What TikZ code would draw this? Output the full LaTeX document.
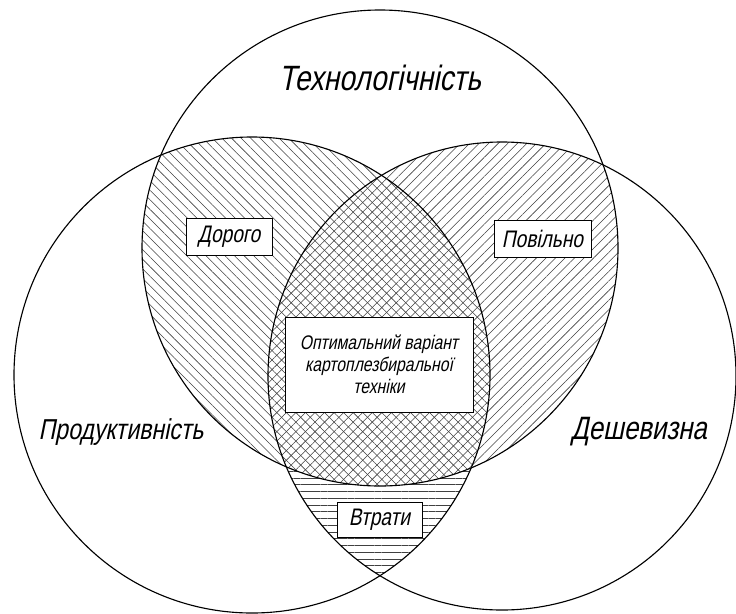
\documentclass[tikz,border=0pt]{standalone}
\usepackage{fontspec}
\setmainfont{Liberation Sans}
\newfontfamily\gost[FakeSlant=0.2,FakeStretch=0.8]{Liberation Sans}
\usetikzlibrary{patterns.meta}

\begin{document}
\begin{tikzpicture}[x=0.025cm,y=-0.025cm]
\tikzset{cercle/.style={draw,line width=0.8pt},
hachure/.style={pattern={Lines[angle=#1,distance=4.8pt,line width=0.4pt]},pattern color=black!75},
etiquette/.style={draw,fill=white,line width=0.5pt,inner sep=0pt,align=center,font=\gost\fontsize{17}{17}\selectfont},
titre/.style={font=\gost\fontsize{#1}{#1}\selectfont}}
\useasboundingbox (0,0) rectangle (736,613);
\coordinate (T) at (380,248);
\coordinate (L) at (252,375);
\coordinate (R) at (502,376);

% zones hachurees
\begin{scope}
\clip (T) circle[radius=238];
\fill[hachure=-45] (L) circle[radius=238];
\fill[hachure=45] (R) circle[radius=234];
\end{scope}
\begin{scope}
\clip (L) circle[radius=238];
\clip (R) circle[radius=234];
\fill[hachure=0,even odd rule] (0,0) rectangle (736,613) (T) circle[radius=238];
\end{scope}

\draw[cercle] (T) circle[radius=238];
\draw[cercle] (L) circle[radius=238];
\draw[cercle] (R) circle[radius=234];

\node[titre=25] (techno) at (380,78) {Технологічність};
\node[titre=20.5] (produkt) at (121,432) {Продуктивність};
\node[titre=23] (desh) at (639,432) {Дешевизна};

\node[etiquette,minimum width=2.15cm,minimum height=0.925cm] (dorogo) at (229,236.5) {Дорого};
\node[etiquette,minimum width=2.425cm,minimum height=0.925cm] (povilno) at (542.5,238.5) {Повільно};
\node[etiquette,minimum width=4.7cm,minimum height=2.375cm,font=\gost\fontsize{14}{15.5}\selectfont] (optimum) at (379,364.5) {Оптимальний варіант\\картоплезбиральної\\техніки};
\node[etiquette,minimum width=2.125cm,minimum height=0.875cm] (vtraty) at (379.5,519.5) {Втрати};
\end{tikzpicture}
\end{document}
